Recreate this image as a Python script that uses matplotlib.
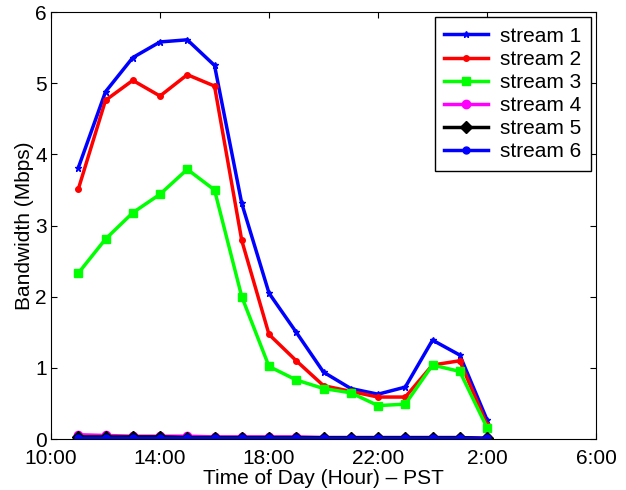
import matplotlib
matplotlib.use('Agg')
import matplotlib.pyplot as plt

plt.rcParams['font.family'] = ['Liberation Sans', 'DejaVu Sans']

# hours since midnight (11:00 .. 2:00 next day)
hours = [11, 12, 13, 14, 15, 16, 17, 18, 19, 20, 21, 22, 23, 24, 25, 26]

stream1 = [3.81, 4.88, 5.36, 5.58, 5.61, 5.25, 3.31, 2.05, 1.50, 0.94, 0.71, 0.63, 0.73, 1.39, 1.18, 0.27]
stream2 = [3.51, 4.76, 5.04, 4.82, 5.12, 4.96, 2.79, 1.47, 1.10, 0.75, 0.67, 0.59, 0.59, 1.04, 1.10, 0.20]
stream3 = [2.33, 2.81, 3.18, 3.44, 3.79, 3.50, 2.00, 1.02, 0.83, 0.71, 0.65, 0.47, 0.49, 1.04, 0.95, 0.16]
stream4 = [0.06, 0.05, 0.04, 0.04, 0.04, 0.03, 0.03, 0.03, 0.03, 0.02, 0.02, 0.02, 0.02, 0.02, 0.02, 0.01]
stream5 = [0.03, 0.03, 0.03, 0.03, 0.02, 0.02, 0.02, 0.02, 0.02, 0.02, 0.02, 0.02, 0.02, 0.02, 0.02, 0.01]
stream6 = [0.01, 0.01, 0.01, 0.01, 0.01, 0.01, 0.01, 0.01, 0.01, 0.01, 0.01, 0.01, 0.01, 0.01, 0.01, 0.01]

xticks = [10, 14, 18, 22, 26, 30]
xticklabels = ['10:00', '14:00', '18:00', '22:00', '2:00', '6:00']

fs = 15

fig = plt.figure(figsize=(6.26, 4.9), dpi=100)
ax = fig.add_axes([0.0815, 0.104, 0.8706, 0.8714])

ax.plot(hours, stream1, color='#0000ff', lw=2.5, marker='*', ms=5, label='stream 1')
ax.plot(hours, stream2, color='#ff0000', lw=2.5, marker='o', ms=4, label='stream 2')
ax.plot(hours, stream3, color='#00ff00', lw=2.5, marker='s', ms=6, label='stream 3')
ax.plot(hours, stream4, color='#ff00ff', lw=2.5, marker='o', ms=6, label='stream 4')
ax.plot(hours, stream5, color='#000000', lw=2.5, marker='D', ms=6, label='stream 5')
ax.plot(hours, stream6, color='#0000ff', lw=2.5, marker='o', ms=5, label='stream 6')

ax.set_xlim(10, 30)
ax.set_ylim(0, 6)
ax.set_xticks(xticks)
ax.set_xticklabels(xticklabels)
ax.set_yticks(range(0, 7))
ax.tick_params(direction='in', top=True, right=True, labelsize=fs, length=4, pad=3)
ax.tick_params(axis='x', pad=7)
ax.set_xlabel('Time of Day (Hour) \u2013 PST', fontsize=fs, labelpad=1)
ax.set_ylabel('Bandwidth (Mbps)', fontsize=fs, labelpad=1)

leg = ax.legend(loc='upper right', fontsize=fs, fancybox=False, framealpha=1,
                edgecolor='black', handlelength=2.1, handletextpad=0.6,
                borderaxespad=0.25, labelspacing=0.2, borderpad=0.45)
leg.get_frame().set_linewidth(1)

fig.savefig('out.png', dpi=100)
